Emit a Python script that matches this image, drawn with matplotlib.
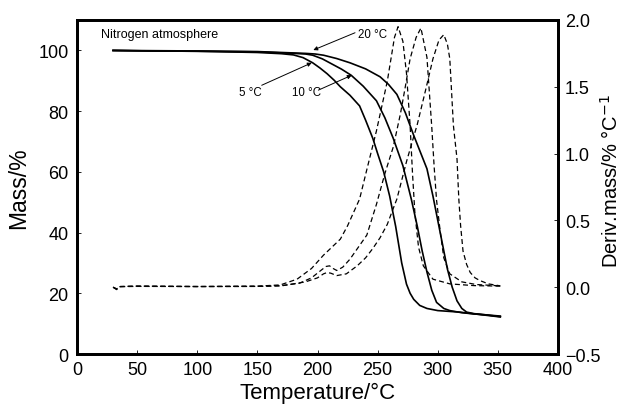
import matplotlib
matplotlib.use("Agg")
import matplotlib.pyplot as plt

plt.rcParams['font.family'] = ['Liberation Sans', 'DejaVu Sans']

# TG mass curves (solid) at three heating rates
T5 = [30, 60, 100, 150, 170, 180, 188, 196, 202, 208, 214, 219, 227, 235, 240, 246, 250,
      255, 260, 265, 270, 274, 277, 280, 285, 291, 300, 318, 335, 352]
m5 = [99.9, 99.8, 99.7, 99.3, 98.9, 98.5, 97.6, 95.9, 94.2, 92.3, 90.1, 88.0, 85.2,
      81.7, 77.0, 71.0, 66.0, 60.0, 52.0, 42.0, 30.0, 23.0, 20.0, 18.0, 16.0, 15.0,
      14.3, 13.8, 13.0, 12.2]

T10 = [30, 60, 100, 150, 180, 190, 196, 204, 212, 220, 228, 238, 249, 256, 263, 271,
       278, 283, 287, 291, 295, 299, 305, 310, 320, 330, 352]
m10 = [100.0, 99.8, 99.7, 99.5, 99.0, 98.8, 98.4, 97.2, 95.5, 93.8, 91.8, 88.2, 83.4,
       77.8, 71.0, 62.0, 51.0, 42.0, 34.0, 27.0, 21.0, 17.0, 15.0, 14.3, 13.6, 13.2,
       12.5]

T20 = [30, 60, 100, 150, 190, 198, 205, 216, 227, 240, 252, 259, 266, 273, 280, 286,
       291, 296, 300, 304, 308, 312, 316, 320, 324, 330, 340, 352]
m20 = [100.0, 99.9, 99.8, 99.6, 99.0, 98.8, 98.4, 97.3, 95.9, 93.9, 91.3, 88.8, 85.5,
       79.5, 72.0, 66.0, 61.0, 52.0, 44.0, 36.0, 28.0, 22.0, 17.5, 15.0, 13.8, 13.3,
       12.9, 12.3]

# DTG curves (dashed)
Td5 = [30, 33, 36, 50, 100, 150, 169, 183, 195, 200, 205, 212, 219, 225, 230, 235, 241,
       249, 258, 264, 267, 271, 274, 277, 279, 281, 284, 288, 296, 310, 330, 352]
d5 = [0.0, -0.018, 0.005, 0.008, 0.005, 0.008, 0.017, 0.06, 0.14, 0.19, 0.24, 0.30,
      0.36, 0.46, 0.56, 0.66, 0.88, 1.17, 1.54, 1.87, 1.95, 1.84, 1.60, 1.21, 0.85,
      0.55, 0.30, 0.16, 0.06, 0.025, 0.012, 0.008]

Td10 = [30, 33, 36, 50, 100, 150, 170, 185, 195, 202, 207, 210, 213, 216, 221, 227, 234,
        241, 249, 256, 263, 269, 273, 277, 282, 286, 291, 295, 297, 299, 302, 305, 310,
        320, 332, 352]
d10 = [0.0, -0.015, 0.005, 0.008, 0.005, 0.006, 0.012, 0.03, 0.07, 0.12, 0.155, 0.16,
       0.14, 0.125, 0.15, 0.21, 0.30, 0.39, 0.62, 0.85, 1.05, 1.30, 1.50, 1.71, 1.87,
       1.94, 1.72, 1.20, 0.90, 0.65, 0.42, 0.22, 0.10, 0.04, 0.02, 0.01]

Td20 = [30, 33, 36, 50, 100, 150, 170, 190, 200, 205, 208, 211, 216, 224, 233, 240, 246,
        252, 258, 263, 266, 274, 283, 290, 296, 301, 305, 308, 310, 313, 316, 317.5, 319,
        321, 324, 327, 331, 335, 342, 352]
d20 = [0.0, -0.012, 0.004, 0.006, 0.005, 0.006, 0.01, 0.04, 0.07, 0.10, 0.11, 0.105,
       0.087, 0.10, 0.16, 0.22, 0.29, 0.37, 0.47, 0.59, 0.66, 0.94, 1.22, 1.48, 1.71,
       1.85, 1.89, 1.82, 1.71, 1.21, 0.96, 0.66, 0.46, 0.27, 0.17, 0.11, 0.07, 0.05,
       0.025, 0.01]

fig = plt.figure(figsize=(6.27, 4.06), dpi=100)
ax = fig.add_axes([0.1228, 0.1256, 0.7672, 0.8227])
ax2 = ax.twinx()

for T, m in [(T5, m5), (T10, m10), (T20, m20)]:
    ax.plot(T, m, color='black', lw=1.2)
for T, d in [(Td5, d5), (Td10, d10), (Td20, d20)]:
    ax2.plot(T, d, color='black', lw=0.9, linestyle=(0, (4, 2.5)))

ax.set_xlim(0, 400)
ax.set_ylim(0, 110)
ax2.set_ylim(-0.5, 2.0)
ax.set_xticks(range(0, 401, 50))
ax.set_yticks(range(0, 101, 20))
ax2.set_yticks([-0.5, 0.0, 0.5, 1.0, 1.5, 2.0])
ax2.set_yticklabels(['\u22120.5', '0.0', '0.5', '1.0', '1.5', '2.0'])

for a in (ax, ax2):
    for s in a.spines.values():
        s.set_linewidth(2.0)
    a.tick_params(direction='in', length=3, width=0.6, labelsize=13)
ax.tick_params(axis='x', pad=5)
ax.tick_params(axis='y', pad=6)
ax2.tick_params(axis='y', pad=5)

ax.set_xlabel('Temperature/\u00b0C', fontsize=16, labelpad=3)
ax.set_ylabel('Mass/%', fontsize=16.5, labelpad=6)
ax2.set_ylabel('Deriv.mass/% \u00b0C$^{\u22121}$', fontsize=14.5)
ax2.yaxis.set_label_coords(1.088, 0.52)

# annotations
ax.text(20, 105.4, 'Nitrogen atmosphere', fontsize=9, ha='left', va='center')
arrow = dict(arrowstyle='-|>', lw=0.7, color='black', mutation_scale=6,
             shrinkA=0, shrinkB=0)
ax.annotate('', xy=(196.5, 100.1), xytext=(231.2, 105.8), arrowprops=arrow)
ax.text(234, 105.3, '20 \u00b0C', fontsize=8.3, ha='left', va='center')
ax.annotate('', xy=(195.2, 95.9), xytext=(153.6, 88.5), arrowprops=arrow)
ax.text(143.9, 86.4, '5 \u00b0C', fontsize=8.3, ha='center', va='center')
ax.annotate('', xy=(228.4, 91.8), xytext=(200.7, 86.9), arrowprops=arrow)
ax.text(191.2, 86.4, '10 \u00b0C', fontsize=8.3, ha='center', va='center')

fig.savefig('out.png', dpi=100)
